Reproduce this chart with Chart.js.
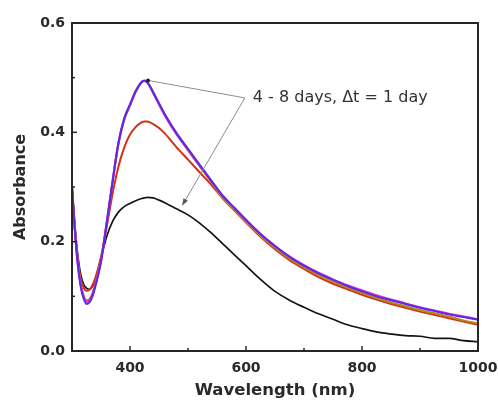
<!DOCTYPE html>
<html>
<head>
<meta charset="utf-8">
<script src="https://cdn.jsdelivr.net/npm/chart.js@4.4.1/dist/chart.umd.min.js"></script>
<style>
  html, body { margin: 0; padding: 0; background: #ffffff; }
  #wrap { width: 498px; height: 401px; position: relative; }
</style>
</head>
<body>
<div id="wrap"><canvas id="spectra"></canvas></div>
<script>
// Wavelength grid (nm) shared by all spectra
const wavelengths = [300, 305, 310, 315, 320, 325, 330, 335, 340, 350, 360, 370, 380, 390, 400, 410, 420, 425, 430, 440, 450, 460, 480, 500, 520, 540, 560, 580, 600, 625, 650, 675, 700, 725, 750, 775, 800, 825, 850, 875, 900, 925, 950, 975, 1000];

// Absorbance spectra recorded on days 4 to 8
const day4 = [0.300, 0.230, 0.175, 0.140, 0.122, 0.115, 0.113, 0.118, 0.130, 0.170, 0.210, 0.237, 0.254, 0.264, 0.270, 0.275, 0.279, 0.280, 0.281, 0.280, 0.276, 0.271, 0.260, 0.249, 0.234, 0.216, 0.196, 0.176, 0.156, 0.131, 0.109, 0.093, 0.080, 0.068, 0.058, 0.048, 0.041, 0.035, 0.031, 0.028, 0.027, 0.023, 0.023, 0.019, 0.017];
const day5 = [0.300, 0.222, 0.168, 0.132, 0.116, 0.110, 0.112, 0.120, 0.133, 0.172, 0.228, 0.288, 0.337, 0.372, 0.396, 0.410, 0.418, 0.420, 0.420, 0.415, 0.408, 0.398, 0.373, 0.350, 0.327, 0.304, 0.279, 0.257, 0.235, 0.209, 0.186, 0.166, 0.150, 0.135, 0.123, 0.113, 0.103, 0.094, 0.086, 0.079, 0.072, 0.066, 0.060, 0.054, 0.048];
const day6 = [0.300, 0.220, 0.162, 0.124, 0.102, 0.093, 0.095, 0.105, 0.122, 0.166, 0.236, 0.310, 0.378, 0.422, 0.449, 0.474, 0.491, 0.494, 0.492, 0.474, 0.453, 0.432, 0.397, 0.367, 0.338, 0.309, 0.280, 0.258, 0.236, 0.211, 0.189, 0.169, 0.153, 0.139, 0.127, 0.116, 0.106, 0.097, 0.089, 0.082, 0.075, 0.069, 0.063, 0.056, 0.050];
const day7 = [0.300, 0.221, 0.160, 0.121, 0.099, 0.090, 0.092, 0.102, 0.120, 0.164, 0.236, 0.311, 0.380, 0.425, 0.450, 0.475, 0.492, 0.494, 0.491, 0.472, 0.451, 0.431, 0.397, 0.368, 0.339, 0.311, 0.283, 0.261, 0.239, 0.214, 0.192, 0.173, 0.157, 0.143, 0.131, 0.120, 0.111, 0.102, 0.094, 0.087, 0.080, 0.074, 0.068, 0.063, 0.058];
const day8 = [0.300, 0.220, 0.158, 0.118, 0.096, 0.086, 0.089, 0.099, 0.117, 0.163, 0.235, 0.310, 0.380, 0.425, 0.451, 0.476, 0.492, 0.495, 0.491, 0.473, 0.453, 0.433, 0.399, 0.370, 0.341, 0.312, 0.284, 0.262, 0.240, 0.214, 0.192, 0.172, 0.156, 0.142, 0.130, 0.119, 0.109, 0.100, 0.093, 0.086, 0.079, 0.073, 0.067, 0.062, 0.057];

// Axis tick values and labels
const xTicks = [400, 500, 600, 700, 800, 900, 1000];
const xLabelled = [400, 600, 800, 1000];
const yTicks = [0, 0.1, 0.2, 0.3, 0.4, 0.5, 0.6];
const yLabelled = [0, 0.2, 0.4, 0.6];

// Annotation: label text and anchor points in data units [nm, absorbance]
const noteText = '4 - 8 days, \u0394t = 1 day';
const noteAnchor = [598, 0.463];
const notePeak = [431, 0.495];
const noteArrowTip = [490, 0.266];

const series = [
  { label: 'day 4', data: day4, color: '#141414', width: 1.7, order: 5 },
  { label: 'day 5', data: day5, color: '#d0321a', width: 2, order: 4 },
  { label: 'day 6', data: day6, color: '#b58a12', width: 2, order: 3 },
  { label: 'day 7', data: day7, color: '#e22ad8', width: 2.2, order: 2 },
  { label: 'day 8', data: day8, color: '#5a2ae6', width: 2, order: 1 }
];

const FONT = 'DejaVu Sans';
const TEXT = '#2a2a2a';

// Frame, inward ticks and the arrow annotation
const framePlugin = {
  id: 'frameAndNotes',
  afterDatasetsDraw(chart) {
    const { ctx, chartArea: a, scales: { x, y } } = chart;
    ctx.save();
    // inward ticks
    ctx.strokeStyle = '#222';
    ctx.lineWidth = 1.5;
    xTicks.forEach(v => {
      const px = x.getPixelForValue(v);
      const len = xLabelled.includes(v) ? 5 : 3;
      ctx.beginPath();
      ctx.moveTo(px, a.bottom);
      ctx.lineTo(px, a.bottom - len);
      ctx.stroke();
    });
    yTicks.forEach(v => {
      const py = y.getPixelForValue(v);
      const len = yLabelled.some(t => Math.abs(t - v) < 1e-9) ? 5 : 3;
      ctx.beginPath();
      ctx.moveTo(a.left, py);
      ctx.lineTo(a.left + len, py);
      ctx.stroke();
    });
    // frame
    ctx.strokeStyle = '#262626';
    ctx.lineWidth = 2;
    ctx.strokeRect(a.left, a.top, a.right - a.left, a.bottom - a.top);

    // annotation lines
    const ax = x.getPixelForValue(noteAnchor[0]);
    const ay = y.getPixelForValue(noteAnchor[1]);
    const px = x.getPixelForValue(notePeak[0]);
    const py = y.getPixelForValue(notePeak[1]);
    const tx = x.getPixelForValue(noteArrowTip[0]);
    const ty = y.getPixelForValue(noteArrowTip[1]);
    ctx.strokeStyle = '#8c8c8c';
    ctx.lineWidth = 1;
    ctx.beginPath();
    ctx.moveTo(ax, ay);
    ctx.lineTo(px, py);
    ctx.moveTo(ax, ay);
    ctx.lineTo(tx, ty);
    ctx.stroke();
    // arrow head at the day-4 curve
    const ang = Math.atan2(ty - ay, tx - ax);
    const hl = 7, hw = 2.6;
    ctx.fillStyle = '#555';
    ctx.beginPath();
    ctx.moveTo(tx, ty);
    ctx.lineTo(tx - hl * Math.cos(ang) + hw * Math.sin(ang), ty - hl * Math.sin(ang) - hw * Math.cos(ang));
    ctx.lineTo(tx - hl * Math.cos(ang) - hw * Math.sin(ang), ty - hl * Math.sin(ang) + hw * Math.cos(ang));
    ctx.closePath();
    ctx.fill();
    // dot where the lines meet the peak
    ctx.fillStyle = '#222';
    ctx.beginPath();
    ctx.arc(px, py, 2, 0, Math.PI * 2);
    ctx.fill();

    // label text
    ctx.fillStyle = '#333';
    ctx.font = '16px "' + FONT + '"';
    ctx.textBaseline = 'middle';
    ctx.textAlign = 'left';
    ctx.fillText(noteText, ax + 8, ay);
    ctx.restore();
  }
};

new Chart(document.getElementById('spectra'), {
  type: 'line',
  data: {
    labels: wavelengths,
    datasets: series.map(s => ({
      label: s.label,
      data: wavelengths.map((w, i) => ({ x: w, y: s.data[i] })),
      borderColor: s.color,
      borderWidth: s.width,
      pointRadius: 0,
      fill: false,
      cubicInterpolationMode: 'monotone',
      order: s.order
    }))
  },
  options: {
    responsive: true,
    maintainAspectRatio: false,
    animation: false,
    layout: { padding: { left: 0, right: 20, top: 23, bottom: 0 } },
    plugins: { legend: { display: false }, tooltip: { enabled: false } },
    scales: {
      x: {
        type: 'linear',
        min: 300,
        max: 1000,
        grid: { display: false, drawTicks: false },
        border: { display: false },
        afterBuildTicks: s => { s.ticks = xTicks.map(v => ({ value: v })); },
        afterFit: s => { s.height = 50; s.paddingLeft = 0; s.paddingRight = 0; },
        ticks: {
          autoSkip: false,
          maxRotation: 0,
          padding: 9,
          color: TEXT,
          font: { family: FONT, size: 14, weight: 'bold' },
          callback: v => xLabelled.includes(v) ? String(v) : ''
        },
        title: {
          display: true,
          text: 'Wavelength (nm)',
          color: TEXT,
          padding: { top: 0, bottom: 0 },
          font: { family: FONT, size: 16.5, weight: 'bold' }
        }
      },
      y: {
        min: 0,
        max: 0.6,
        grid: { display: false, drawTicks: false },
        border: { display: false },
        afterBuildTicks: s => { s.ticks = yTicks.map(v => ({ value: v })); },
        afterFit: s => { s.width = 72; s.paddingTop = 0; s.paddingBottom = 0; },
        ticks: {
          autoSkip: false,
          padding: 7,
          color: TEXT,
          font: { family: FONT, size: 14, weight: 'bold' },
          callback: v => yLabelled.some(t => Math.abs(t - v) < 1e-9) ? v.toFixed(1) : ''
        },
        title: {
          display: true,
          text: 'Absorbance',
          color: TEXT,
          padding: { top: 11, bottom: 0 },
          font: { family: FONT, size: 16, weight: 'bold' }
        }
      }
    }
  },
  plugins: [framePlugin]
});
</script>
</body>
</html>
